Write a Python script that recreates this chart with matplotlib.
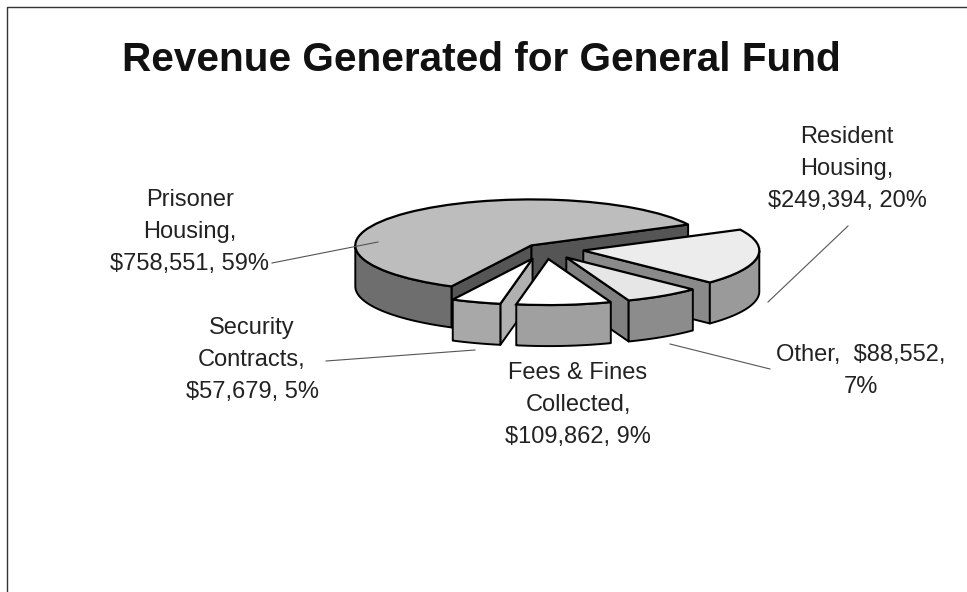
import numpy as np
import matplotlib
matplotlib.use("Agg")
import matplotlib.pyplot as plt

title = "Revenue Generated for General Fund"
categories = ["Prisoner Housing", "Security Contracts", "Fees & Fines Collected", "Other", "Resident Housing"]
amounts = [758551, 57679, 109862, 88552, 249394]
labels = [
    "Prisoner\nHousing,\n$758,551, 59%",
    "Security\nContracts,\n$57,679, 5%",
    "Fees & Fines\nCollected,\n$109,862, 9%",
    "Other,  $88,552,\n7%",
    "Resident\nHousing,\n$249,394, 20%",
]
explode = [0.11, 0.22, 0.22, 0.22, 0.22]
top_colors = ["#bdbdbd", "#ffffff", "#ffffff", "#e6e6e6", "#ececec"]
wall_colors = ["#6e6e6e", "#a8a8a8", "#a0a0a0", "#8c8c8c", "#9a9a9a"]
radial_colors = ["#555555", "#b0b0b0", "#888888", "#808080", "#8a8a8a"]
label_pos = [(190, 232), (252, 360), (578, 405), (861, 371), (847, 169)]
leaders = [
    [(272, 263), (378, 242)],
    [(326, 361), (475, 350)],
    None,
    [(770, 369), (670, 344)],
    [(768, 302), (848, 226)],
]

plt.rcParams["font.family"] = ["Liberation Sans", "DejaVu Sans"]
W, H = 967, 592
fig = plt.figure(figsize=(W / 100, H / 100), dpi=100)

# pie axes: x is pixels, y is stretched so a round pie comes out flat
cx, cy, rx, ry, depth = 545, 249, 176, 46, 41
k = ry / rx
ax = fig.add_axes([0, 0, 1, 1])
center = (cx, (H - cy) / k)
dz = depth / k

total = sum(amounts)
start = 27.0
starts = []
for a in amounts:
    starts.append(start)
    start += a / total * 360


def arc(w, t1, t2, drop=0.0):
    t = np.radians(np.linspace(t1, t2, 80))
    return np.column_stack([w.center[0] + w.r * np.cos(t), w.center[1] - drop + w.r * np.sin(t)])


def draw_slice(i, z):
    # pie takes explode in data units, not as a share of the radius
    wedges, _ = ax.pie([amounts[i] / total], normalize=False, startangle=starts[i], center=center,
                       radius=rx, explode=[explode[i] * rx], colors=[top_colors[i]], frame=True,
                       wedgeprops=dict(edgecolor="black", linewidth=1.6, zorder=z + 3))
    w = wedges[0]
    apex = np.array(w.center)
    down = np.array([0, -dz])
    for theta, normal in ((w.theta1, w.theta1 - 90), (w.theta2, w.theta2 + 90)):
        if np.sin(np.radians(normal)) < 0:
            p = apex + w.r * np.array([np.cos(np.radians(theta)), np.sin(np.radians(theta))])
            quad = np.array([apex, p, p + down, apex + down])
            ax.fill(quad[:, 0], quad[:, 1], facecolor=radial_colors[i], edgecolor="black",
                    linewidth=1.4, zorder=z + 1, joinstyle="round")
    # outer wall, only the part that faces front
    ranges = [(max(w.theta1, 180 + 360 * n), min(w.theta2, 360 + 360 * n)) for n in (-1, 0, 1)]
    for t1, t2 in ranges:
        if t2 > t1:
            top = arc(w, t1, t2)
            bottom = arc(w, t2, t1, dz)
            poly = np.vstack([top, bottom])
            ax.fill(poly[:, 0], poly[:, 1], facecolor=wall_colors[i], edgecolor="black",
                    linewidth=1.4, zorder=z + 2, joinstyle="round")


for z, i in enumerate([0, 4, 3, 1, 2]):
    draw_slice(i, z * 10)

ax.set_aspect("auto")
ax.set_xlim(0, W)
ax.set_ylim(0, H / k)
ax.axis("off")

# overlay in pixel coordinates for text, leader lines and the page border
ov = fig.add_axes([0, 0, 1, 1], facecolor="none", zorder=5)
ov.set_xlim(0, W)
ov.set_ylim(H, 0)
ov.axis("off")

ov.plot([7, 7, W], [H, 7, 7], color="#333333", lw=1.0)
ov.text(481, 60, title, ha="center", va="center", fontsize=29.2, fontweight="bold", color="#111111")

for lab, pos, lead in zip(labels, label_pos, leaders):
    ov.text(pos[0], pos[1], lab, ha="center", va="center", fontsize=17, color="#222222",
            linespacing=1.6)
    if lead:
        ov.plot([lead[0][0], lead[1][0]], [lead[0][1], lead[1][1]], color="#555555", lw=0.8)

fig.savefig("out.png", dpi=100)
